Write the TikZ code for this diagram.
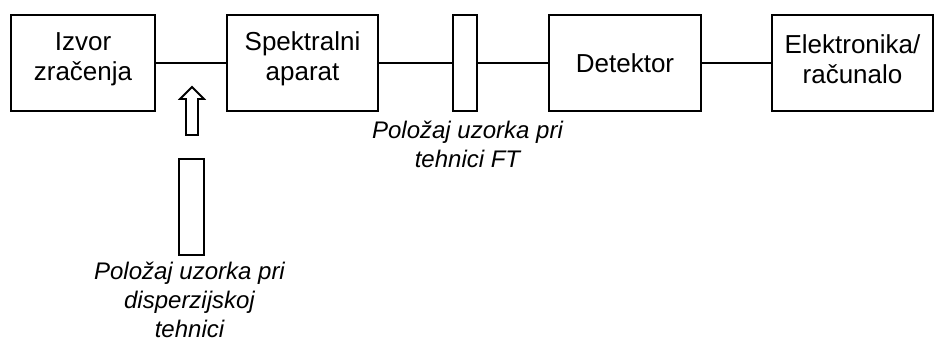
\documentclass[tikz,border=0pt]{standalone}
\usepackage{fontspec}
\setmainfont{Liberation Sans}
\begin{document}
\begin{tikzpicture}[x=1pt,y=-1pt,
  lw/.style={line width=1.8pt},
  blk/.style={draw,lw,inner sep=0pt,minimum height=96pt},
  btext/.style={inner sep=0pt,align=center,font=\fontsize{26}{30}\selectfont},
  lbl/.style={inner sep=0pt,align=center,font=\fontsize{24}{29}\selectfont\itshape},
  conn/.style={lw}]
\useasboundingbox (0,0) rectangle (935,342);
% boxes
\node[blk,minimum width=144pt] (src) at (83,63) {};
\node[blk,minimum width=151pt] (spec) at (302.5,63) {};
\node[blk,minimum width=24pt] (ft) at (465,63) {};
\node[blk,minimum width=152pt] (det) at (625,63) {};
\node[blk,minimum width=161pt] (el) at (852.5,63) {};
% box texts
\node[btext] (tsrc) at (83,59) {Izvor\\zračenja};
\node[btext] (tspec) at (302.5,59) {Spektralni\\aparat};
\node[btext] (tdet) at (625,63.5) {Detektor};
\node[btext] (tel) at (852.5,59) {Elektronika/\\računalo};
% connectors
\draw[conn] (src.east) -- (spec.west);
\draw[conn] (spec.east) -- (ft.west);
\draw[conn] (ft.east) -- (det.west);
\draw[conn] (det.east) -- (el.west);
% hollow arrow
\draw[lw,line join=miter] (186,135) -- (186,99) -- (180,99) -- (192,87) -- (204,99) -- (198,99) -- (198,135) -- cycle;
% dispersive sample
\node[draw,lw,inner sep=0pt,minimum width=25pt,minimum height=96pt] (disp) at (191.5,207) {};
% labels
\node[lbl] (lft) at (467.5,144) {Položaj uzorka pri\\tehnici FT};
\node[lbl] (ldisp) at (189.5,300) {Položaj uzorka pri\\disperzijskoj\\tehnici};
\end{tikzpicture}
\end{document}
